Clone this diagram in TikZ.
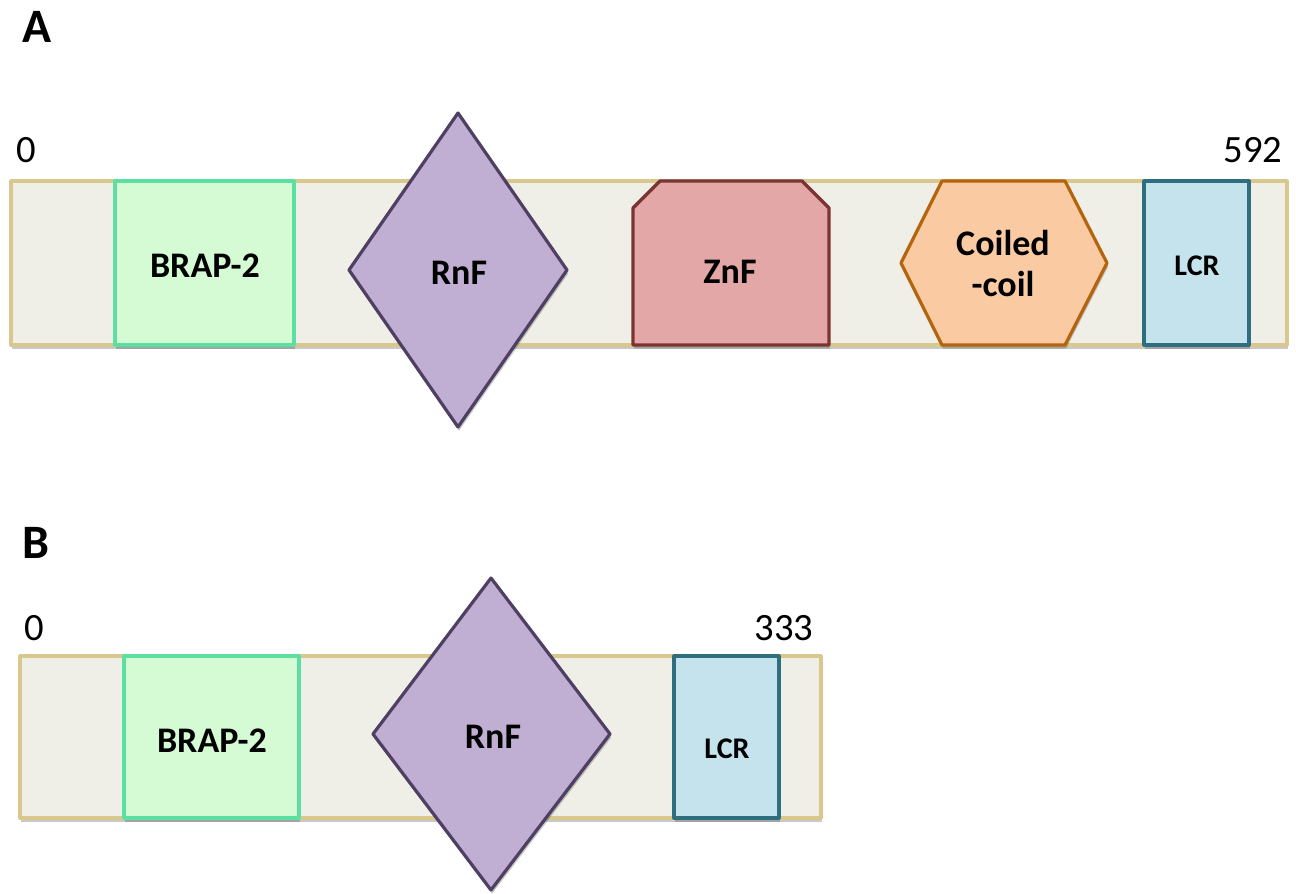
\documentclass[tikz,border=0pt]{standalone}
\usepackage{fontspec}
\setmainfont{Carlito}
\usetikzlibrary{shadows}

\definecolor{barfill}{HTML}{EFEEE7}
\definecolor{bardraw}{HTML}{D9C88E}
\definecolor{brapfill}{HTML}{D5FBD5}
\definecolor{brapdraw}{HTML}{5CE0A2}
\definecolor{rnffill}{HTML}{C1AFD3}
\definecolor{rnfdraw}{HTML}{4F4063}
\definecolor{znffill}{HTML}{E2A7A6}
\definecolor{znfdraw}{HTML}{7A3532}
\definecolor{coilfill}{HTML}{FACBA3}
\definecolor{coildraw}{HTML}{B5640E}
\definecolor{lcrfill}{HTML}{C5E3EC}
\definecolor{lcrdraw}{HTML}{2E6E7E}

\begin{document}
\begin{tikzpicture}[x=0.75pt,y=-0.75pt,
  softshadow/.style={drop shadow={opacity=0.3,shadow xshift=0.8pt,shadow yshift=-2.8pt,fill=black!70}},
  dombox/.style={line width=2.4pt,line join=round,softshadow},
  barbox/.style={dombox,fill=barfill,draw=bardraw},
  brapbox/.style={dombox,fill=brapfill,draw=brapdraw},
  rnfbox/.style={dombox,fill=rnffill,draw=rnfdraw},
  znfbox/.style={dombox,fill=znffill,draw=znfdraw},
  coilbox/.style={dombox,fill=coilfill,draw=coildraw},
  lcrbox/.style={dombox,fill=lcrfill,draw=lcrdraw},
  lbl/.style={inner sep=0pt,anchor=base,font=\fontsize{27}{31}\selectfont\bfseries},
  smalllbl/.style={inner sep=0pt,anchor=base,font=\fontsize{22.5}{26}\selectfont\bfseries},
  numlbl/.style={inner sep=0pt,anchor=base,font=\fontsize{29}{33}\selectfont},
  panellbl/.style={inner sep=0pt,anchor=base,font=\fontsize{36}{40}\selectfont\bfseries}]
\useasboundingbox (0,0) rectangle (1296,893);

% ---------- protein A (592 aa) ----------
\node[panellbl] (pA) at (37,42) {A};
\node[numlbl] (a0) at (26,162) {0};
\node[numlbl] (a592) at (1253,162) {592};

\path[barbox] (11,181) rectangle (1287,345);
\path[brapbox] (115,181) rectangle (294,345);
\path[rnfbox] (458,113) -- (567,270) -- (458,427) -- (349,270) -- cycle;
\path[znfbox] (660,181) -- (802,181) -- (829,208) -- (829,345) -- (633,345) -- (633,208) -- cycle;
\path[coilbox] (942,181) -- (1065,181) -- (1107,263) -- (1065,345) -- (942,345) -- (901,263) -- cycle;
\path[lcrbox] (1144,181) rectangle (1249,345);

\node[lbl] (brapA) at (205,277) {BRAP-2};
\node[lbl] (rnfA) at (459,284) {RnF};
\node[lbl] (znfA) at (730,283) {ZnF};
\node[lbl] (coilA1) at (1003,255) {Coiled};
\node[lbl] (coilA2) at (1003,296) {-coil};
\node[smalllbl] (lcrA) at (1197,275) {LCR};

% ---------- protein B (333 aa) ----------
\node[panellbl] (pB) at (36,558) {B};
\node[numlbl] (b0) at (34,640) {0};
\node[numlbl] (b333) at (784,640) {333};

\path[barbox] (20,656) rectangle (821,818);
\path[brapbox] (124,656) rectangle (299,818);
\path[rnfbox] (491,578) -- (610,734) -- (491,890) -- (373,734) -- cycle;
\path[lcrbox] (674,656) rectangle (779,818);

\node[lbl] (brapB) at (212,752) {BRAP-2};
\node[lbl] (rnfB) at (493,748) {RnF};
\node[smalllbl] (lcrB) at (727,758) {LCR};
\end{tikzpicture}
\end{document}
